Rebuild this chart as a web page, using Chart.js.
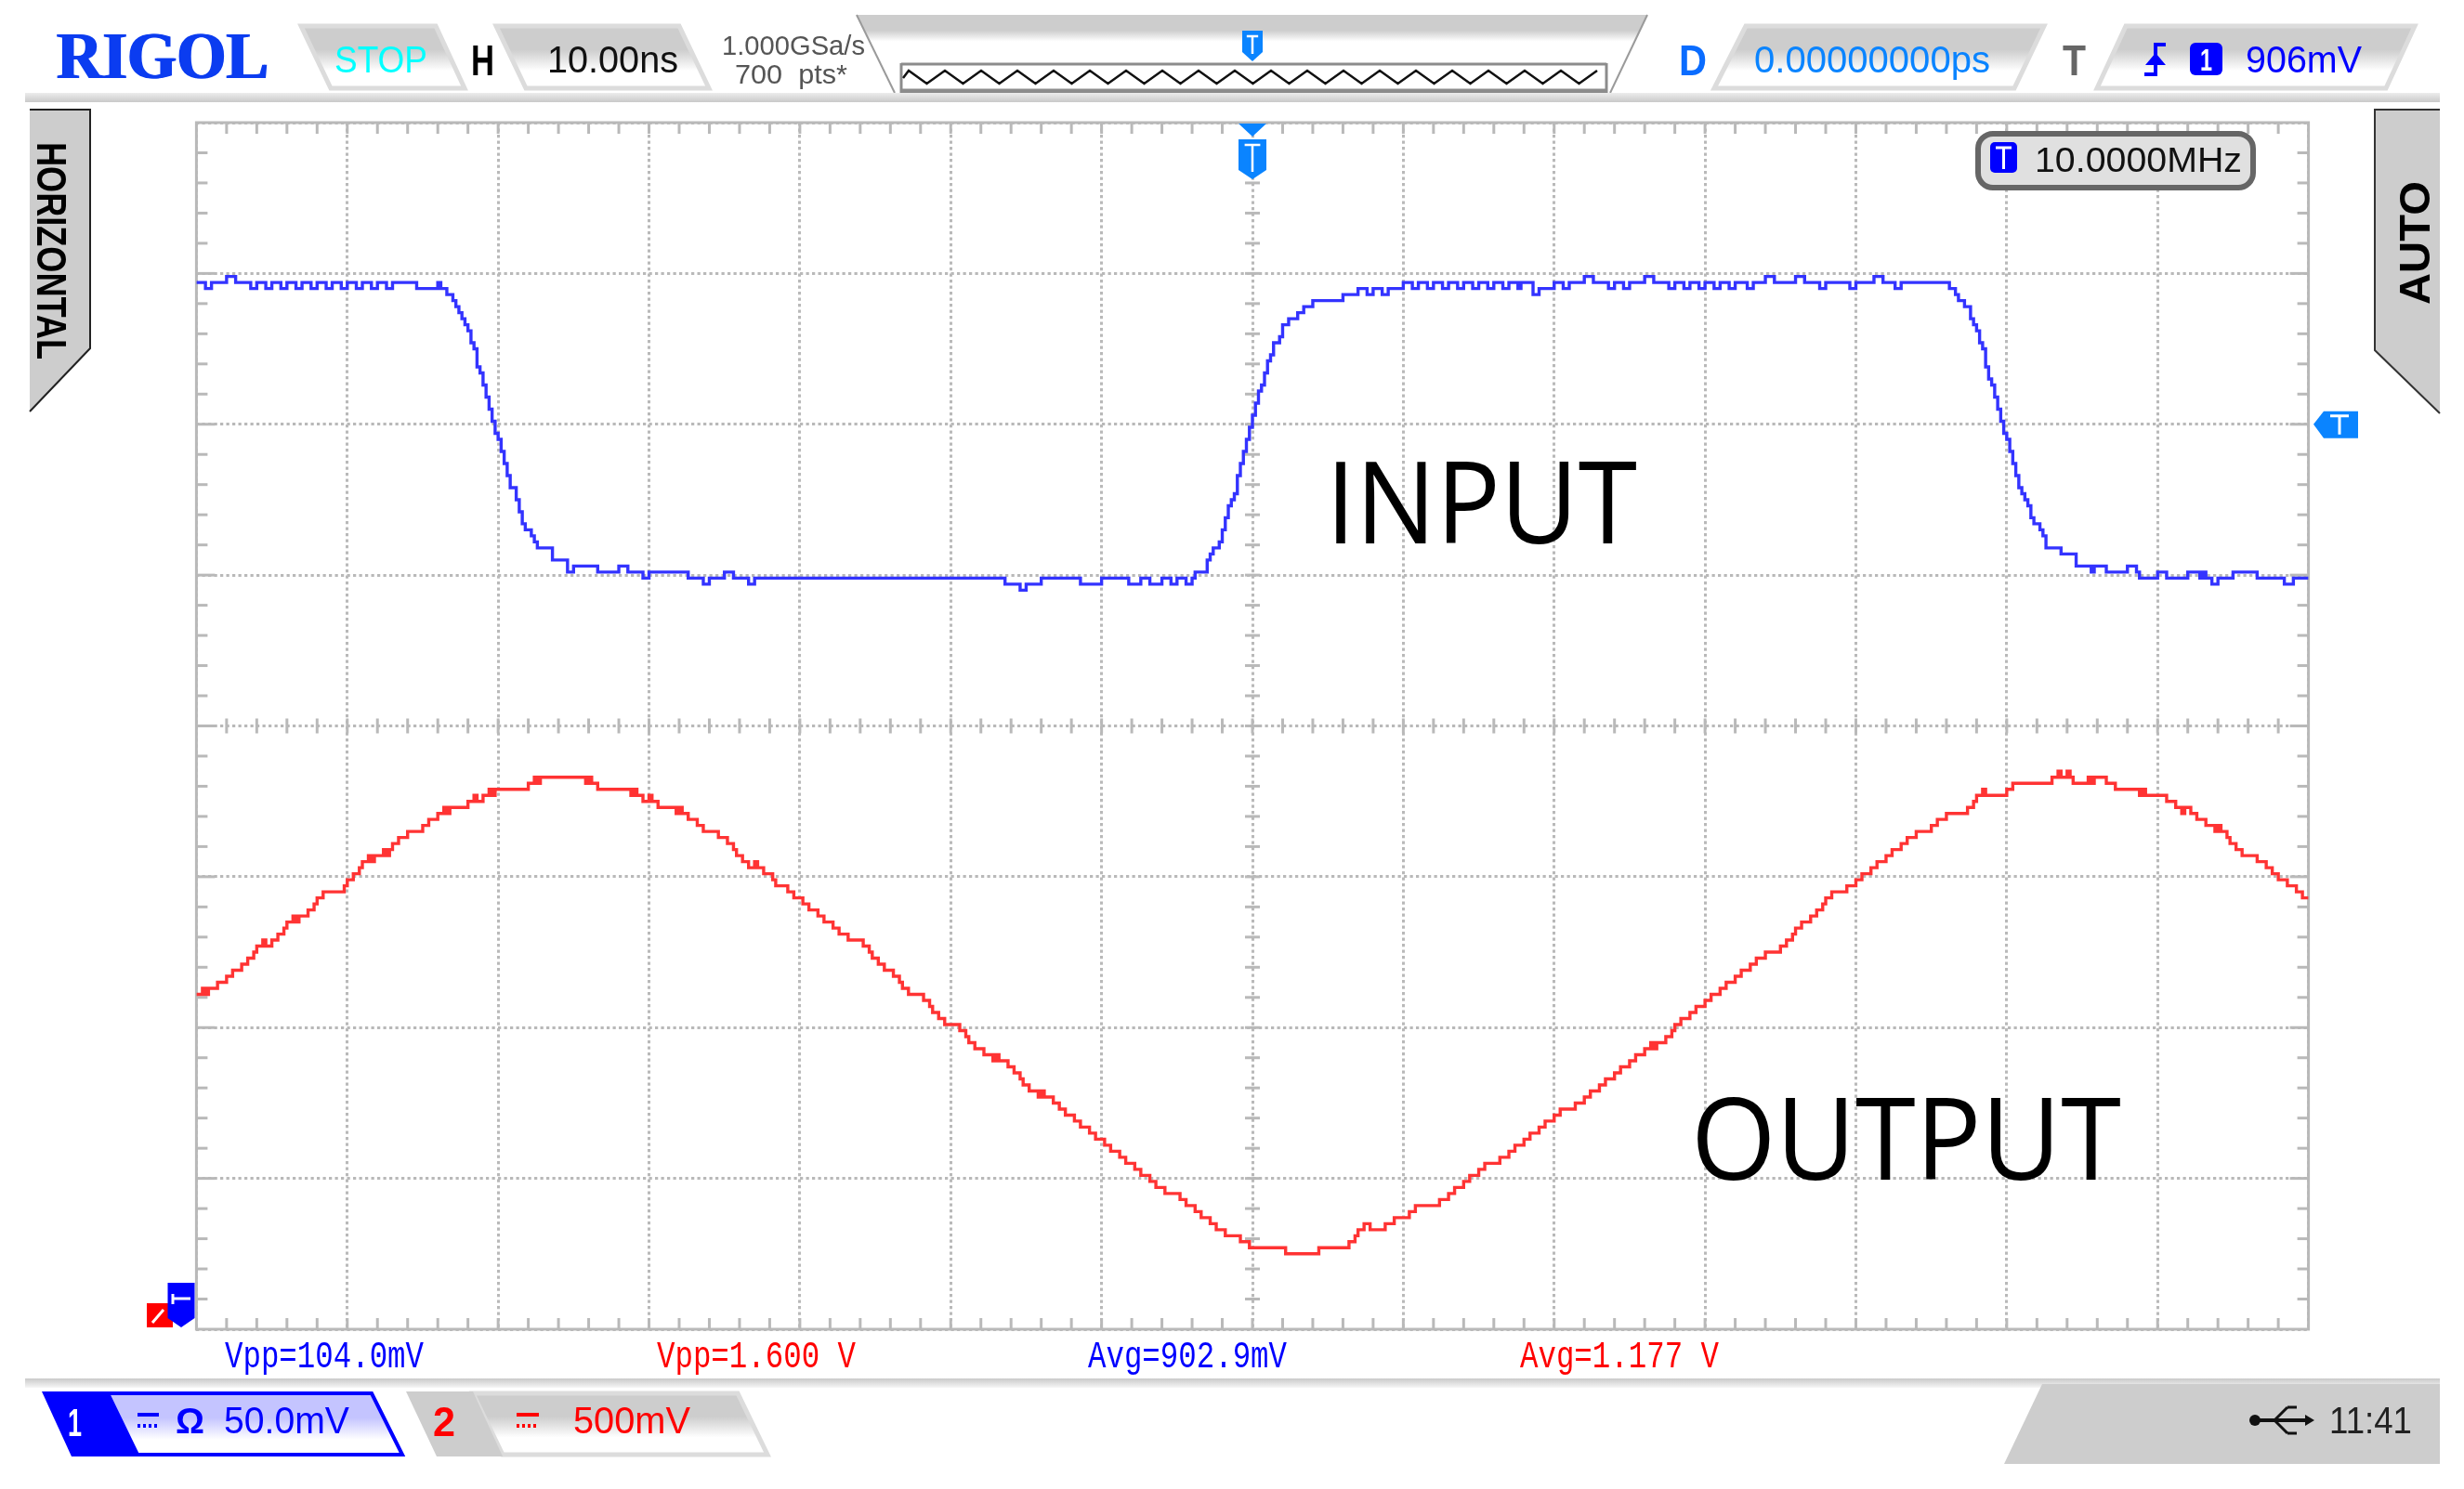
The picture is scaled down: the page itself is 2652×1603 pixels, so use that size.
<!DOCTYPE html>
<html lang="en">
<head>
    <meta charset="UTF-8">
    <title>RIGOL - input and output</title>
    <script src="https://cdn.jsdelivr.net/npm/chart.js"></script>
    <style>
        html, body { margin: 0; background: #fff; }
        canvas { display: block; }
    </style>
</head>
<body>
    <canvas id="scope" width="2652" height="1603"></canvas>

    <script>
        // samples are screen columns (700 pts), levels are screen rows (50 per division)
        const inputSamples = [
            0,3,5,10,13,18,20,23,25,28,
            30,33,35,38,40,43,45,48,50,53,
            55,58,60,63,65,73,80,81,83,85,
            86,87,88,89,90,91,92,93,94,95,
            96,97,98,99,100,101,102,103,104,106,
            107,108,109,111,112,113,118,123,125,133,
            140,143,148,150,163,168,170,175,178,183,
            185,268,273,275,280,293,300,309,313,316,
            320,323,325,328,330,331,335,336,337,339,
            340,341,342,343,344,345,346,347,348,349,
            350,351,352,353,354,355,356,357,359,360,
            362,365,367,370,380,385,388,390,393,395,
            400,403,405,408,410,413,415,418,420,423,
            425,428,430,433,435,438,439,443,445,450,
            453,455,460,463,468,470,473,475,480,483,
            488,490,493,495,498,500,503,505,508,510,
            514,516,520,523,530,533,538,540,548,550,
            556,559,563,565,581,583,584,586,588,589,
            590,591,592,593,594,595,596,597,598,599,
            600,601,602,603,604,605,606,607,608,609,
            611,612,613,618,623,628,629,633,640,643,
            644,650,653,660,664,665,666,668,670,675,
            683,692,695,700
        ];
        const inputLevels = [
            347,345,347,349,347,345,347,345,347,345,
            347,345,347,345,347,345,347,345,347,345,
            347,345,347,345,347,345,347,345,343,341,
            339,337,335,333,331,327,325,319,317,313,
            309,305,301,297,295,291,287,283,279,275,
            271,267,265,263,261,259,255,251,253,251,
            253,251,249,251,249,247,249,251,249,247,
            249,247,245,247,249,247,249,247,249,247,
            249,247,249,247,249,251,255,257,259,261,
            265,269,273,275,277,283,287,291,295,299,
            303,307,311,313,317,321,323,327,329,333,
            335,337,339,341,343,345,343,345,343,345,
            347,345,347,345,347,345,347,345,347,345,
            347,345,347,345,347,345,347,343,345,347,
            345,347,349,347,345,347,345,347,349,347,
            345,347,345,347,345,347,345,347,345,347,
            345,347,349,347,349,347,345,347,345,347,
            349,347,345,347,345,343,341,339,335,333,
            331,327,325,319,315,313,309,305,301,297,
            295,291,287,283,279,277,275,273,269,267,
            265,263,259,257,253,251,253,251,253,251,
            249,251,249,251,249,251,249,247,249,251,
            249,247,249,249
        ];

        const outputSamples = [
            0,2,3,4,7,10,12,15,17,19,
            20,22,23,25,27,29,30,32,33,34,
            37,39,40,42,49,50,52,54,55,57,
            58,59,62,63,64,65,67,70,75,77,
            80,82,83,84,90,92,93,95,97,98,
            99,110,112,113,114,129,130,131,133,144,
            145,146,148,150,151,153,159,160,161,163,
            166,168,173,176,178,179,181,183,185,186,
            188,191,192,196,198,201,203,206,208,211,
            213,216,221,223,224,226,228,231,233,234,
            236,241,243,244,246,248,253,255,256,258,
            261,264,265,266,269,271,273,274,276,279,
            280,281,284,286,288,291,293,296,298,301,
            303,306,308,311,313,316,318,321,326,328,
            331,333,336,338,341,346,349,361,372,382,
            384,385,387,389,394,397,402,404,412,415,
            417,420,422,425,427,432,435,437,440,442,
            445,447,450,452,457,460,462,465,467,470,
            472,475,477,480,482,483,484,487,489,490,
            492,495,497,500,502,505,507,510,512,515,
            517,520,525,527,529,530,532,535,537,539,
            540,542,547,550,552,555,557,560,562,565,
            567,570,575,577,580,587,589,590,592,593,
            600,602,615,617,618,620,621,622,627,628,
            629,633,636,644,645,646,653,656,658,659,
            661,663,666,669,670,671,673,674,676,678,
            683,686,688,690,693,696,698,700
        ];
        const outputLevels = [
            111,113,111,113,115,117,119,121,123,125,
            127,129,127,129,131,133,135,137,135,137,
            139,141,143,145,147,149,151,153,155,157,
            155,157,159,157,159,161,163,165,167,169,
            171,173,171,173,175,177,175,177,179,177,
            179,181,183,181,183,181,183,181,179,177,
            179,177,175,177,175,173,171,173,171,169,
            167,165,163,161,159,157,155,153,155,153,
            151,149,147,145,143,141,139,137,135,133,
            131,129,127,125,123,121,119,117,115,113,
            111,109,107,105,103,101,99,97,95,93,
            91,89,91,89,87,85,83,81,79,77,
            79,77,75,73,71,69,67,65,63,61,
            59,57,55,53,51,49,47,45,43,41,
            39,37,35,33,31,29,27,25,27,29,
            31,33,35,33,35,37,39,41,43,45,
            47,49,51,53,55,57,59,61,63,65,
            67,69,71,73,75,77,79,81,83,85,
            87,89,91,93,95,93,95,97,99,101,
            103,105,107,109,111,113,115,117,119,121,
            123,125,127,129,131,133,135,137,139,141,
            143,145,147,149,151,153,155,157,159,161,
            163,165,167,169,171,173,175,177,179,177,
            179,181,183,185,183,185,183,181,183,181,
            183,181,179,177,179,177,175,173,171,173,
            171,169,167,165,167,165,163,161,159,157,
            155,153,151,149,147,145,143,143
        ];

        const xDivision = 50, yDivision = 50, minorStep = 10;
        const SAMPLES = 700, ROWS = 400;
        const BLUE = '#0000ff', RED = '#ff0000', SKY = '#0a84ff', GRID = '#b9b9b9', PANEL = '#cdcdcd';
        const SANS = '"Liberation Sans"';
        const MONO = '"Liberation Mono"';

        function toPoints(samples, levels) {
            return samples.map((s, i) => ({ x: s, y: levels[i] }));
        }

        // text squeezed between x0 and x1, sitting on baseline
        function fitText(ctx, text, x0, x1, base, font, color) {
            ctx.save();
            ctx.font = font;
            ctx.fillStyle = color;
            ctx.textAlign = 'left';
            ctx.textBaseline = 'alphabetic';
            const w = ctx.measureText(text).width;
            ctx.translate(x0, base);
            ctx.scale((x1 - x0) / w, 1);
            ctx.fillText(text, 0, 0);
            ctx.restore();
        }

        function poly(ctx, pts) {
            ctx.beginPath();
            pts.forEach((p, i) => i ? ctx.lineTo(p[0], p[1]) : ctx.moveTo(p[0], p[1]));
            ctx.closePath();
        }

        function panel(ctx, tlx, trx, brx, blx, top, bottom, shade) {
            const pts = [[tlx, top], [trx, top], [brx, bottom], [blx, bottom]];
            const g = ctx.createLinearGradient(0, top, 0, bottom);
            g.addColorStop(0, shade);
            g.addColorStop(0.38, shade);
            g.addColorStop(0.72, '#ffffff');
            g.addColorStop(1, '#ffffff');
            poly(ctx, pts);
            ctx.fillStyle = g;
            ctx.fill();
            ctx.strokeStyle = '#dcdcdc';
            ctx.lineWidth = 5;
            ctx.stroke();
        }

        function line(ctx, x0, y0, x1, y1, color, width) {
            ctx.strokeStyle = color;
            ctx.lineWidth = width;
            ctx.beginPath();
            ctx.moveTo(x0, y0);
            ctx.lineTo(x1, y1);
            ctx.stroke();
        }

        // coupling mark: solid bar over a dotted one
        function coupling(ctx, x0, x1, color) {
            line(ctx, x0, 1523, x1, 1523, color, 4);
            ctx.setLineDash([3, 3]);
            line(ctx, x0, 1535, x1, 1535, color, 4);
            ctx.setLineDash([]);
        }

        function drawHeader(ctx) {
            fitText(ctx, 'RIGOL', 60, 288, 84, 'bold 72px "Liberation Serif"', '#0b3cf0');
            fitText(ctx, 'RIGOL', 62, 290, 84, 'bold 72px "Liberation Serif"', '#0b3cf0');

            panel(ctx, 324, 469, 500, 356, 28, 95, PANEL);
            fitText(ctx, 'STOP', 360, 460, 78, '40px ' + SANS, '#00ffff');
            fitText(ctx, 'H', 507, 532, 81, 'bold 46px ' + SANS, '#000');
            panel(ctx, 534, 731, 763, 566, 28, 95, PANEL);
            fitText(ctx, '10.00ns', 589, 730, 78, '40px ' + SANS, '#111');
            fitText(ctx, '1.000GSa/s', 777, 931, 59, '30px ' + SANS, '#555');
            fitText(ctx, '700  pts*', 791, 912, 90, '30px ' + SANS, '#555');

            // memory overview
            const g = ctx.createLinearGradient(0, 16, 0, 100);
            g.addColorStop(0, PANEL);
            g.addColorStop(0.2, PANEL);
            g.addColorStop(0.34, '#ffffff');
            g.addColorStop(1, '#ffffff');
            poly(ctx, [[922, 16], [1773, 16], [1733, 100], [963, 100]]);
            ctx.fillStyle = g;
            ctx.fill();
            line(ctx, 922, 16, 963, 100, '#9a9a9a', 2);
            line(ctx, 1773, 16, 1733, 100, '#9a9a9a', 2);
            ctx.fillStyle = '#fff';
            ctx.fillRect(970, 68, 759, 32);
            line(ctx, 970, 69, 1729, 69, '#8c8c8c', 3);
            line(ctx, 970, 98, 1729, 98, '#8c8c8c', 5);
            line(ctx, 970, 68, 970, 100, '#8c8c8c', 3);
            line(ctx, 1729, 68, 1729, 100, '#8c8c8c', 3);
            ctx.strokeStyle = '#111';
            ctx.lineWidth = 2.5;
            ctx.beginPath();
            ctx.moveTo(972, 84);
            for (let x = 978, up = true; x < 1727; x += 19.5, up = !up) ctx.lineTo(x, up ? 76 : 90);
            ctx.stroke();
            marker(ctx, 1348, 33, 66, 22, SKY);

            fitText(ctx, 'D', 1807, 1837, 81, 'bold 46px ' + SANS, '#0a6cff');
            panel(ctx, 1879, 2200, 2168, 1845, 28, 95, PANEL);
            fitText(ctx, '0.00000000ps', 1888, 2142, 78, '40px ' + SANS, SKY);
            fitText(ctx, 'T', 2220, 2245, 81, 'bold 46px ' + SANS, '#666');
            panel(ctx, 2288, 2599, 2568, 2257, 28, 95, PANEL);

            // trigger edge
            ctx.strokeStyle = BLUE;
            ctx.lineWidth = 4;
            ctx.beginPath();
            ctx.moveTo(2331, 48);
            ctx.lineTo(2320, 48);
            ctx.lineTo(2320, 80);
            ctx.lineTo(2308, 80);
            ctx.stroke();
            ctx.fillStyle = BLUE;
            poly(ctx, [[2320, 57], [2331, 70], [2309, 70]]);
            ctx.fill();
            ctx.beginPath();
            ctx.roundRect(2357, 46, 35, 35, 6);
            ctx.fill();
            fitText(ctx, '1', 2368, 2381, 76, 'bold 34px ' + SANS, '#fff');
            fitText(ctx, '906mV', 2417, 2542, 78, '40px ' + SANS, BLUE);

            const b = ctx.createLinearGradient(0, 100, 0, 110);
            b.addColorStop(0, '#ececec');
            b.addColorStop(1, '#c9c9c9');
            ctx.fillStyle = b;
            ctx.fillRect(27, 100, 2599, 10);
        }

        function drawTabs(ctx) {
            poly(ctx, [[32, 117], [97, 117], [97, 375], [32, 443]]);
            ctx.fillStyle = PANEL;
            ctx.fill();
            ctx.strokeStyle = '#222';
            ctx.lineWidth = 2;
            ctx.beginPath();
            ctx.moveTo(32, 118);
            ctx.lineTo(97, 118);
            ctx.lineTo(97, 375);
            ctx.lineTo(32, 443);
            ctx.stroke();
            ctx.save();
            ctx.translate(40, 153);
            ctx.rotate(Math.PI / 2);
            fitText(ctx, 'HORIZONTAL', 0, 234, 0, 'bold 45px ' + SANS, '#000');
            ctx.restore();

            poly(ctx, [[2626, 117], [2556, 117], [2556, 377], [2626, 445]]);
            ctx.fillStyle = PANEL;
            ctx.fill();
            ctx.strokeStyle = '#333';
            ctx.beginPath();
            ctx.moveTo(2626, 118);
            ctx.lineTo(2556, 118);
            ctx.lineTo(2556, 377);
            ctx.lineTo(2626, 445);
            ctx.stroke();
            ctx.save();
            ctx.translate(2615, 328);
            ctx.rotate(-Math.PI / 2);
            fitText(ctx, 'AUTO', 0, 133, 0, 'bold 46px ' + SANS, '#000');
            ctx.restore();
        }

        function drawFooter(ctx) {
            const g = ctx.createLinearGradient(0, 1484, 0, 1494);
            g.addColorStop(0, '#c9c9c9');
            g.addColorStop(1, '#f6f6f6');
            ctx.fillStyle = g;
            ctx.fillRect(27, 1484, 2599, 10);

            const mono = '40px ' + MONO;
            fitText(ctx, 'Vpp=104.0mV', 242, 456, 1472, mono, BLUE);
            fitText(ctx, 'Vpp=1.600 V', 707, 921, 1472, mono, RED);
            fitText(ctx, 'Avg=902.9mV', 1171, 1385, 1472, mono, BLUE);
            fitText(ctx, 'Avg=1.177 V', 1636, 1850, 1472, mono, RED);

            // channel 1
            const blueFade = ctx.createLinearGradient(0, 1499, 0, 1567);
            blueFade.addColorStop(0, '#c4c4ff');
            blueFade.addColorStop(0.4, '#c4c4ff');
            blueFade.addColorStop(0.75, '#ffffff');
            poly(ctx, [[116, 1500], [400, 1500], [433, 1566], [148, 1566]]);
            ctx.fillStyle = blueFade;
            ctx.fill();
            ctx.strokeStyle = BLUE;
            ctx.lineWidth = 4;
            ctx.stroke();
            poly(ctx, [[45, 1498], [116, 1498], [148, 1568], [77, 1568]]);
            ctx.fillStyle = BLUE;
            ctx.fill();
            fitText(ctx, '1', 73, 88, 1546, 'bold 42px ' + SANS, '#fff');
            coupling(ctx, 148, 171, BLUE);
            fitText(ctx, 'Ω', 189, 220, 1543, 'bold 38px ' + SANS, BLUE);
            fitText(ctx, '50.0mV', 241, 376, 1543, '40px ' + SANS, BLUE);

            // channel 2
            panel(ctx, 509, 794, 826, 541, 1500, 1566, PANEL);
            poly(ctx, [[437, 1498], [509, 1498], [541, 1568], [470, 1568]]);
            ctx.fillStyle = PANEL;
            ctx.fill();
            fitText(ctx, '2', 466, 490, 1546, 'bold 44px ' + SANS, RED);
            coupling(ctx, 556, 580, RED);
            fitText(ctx, '500mV', 617, 743, 1543, '40px ' + SANS, RED);

            // usb and clock corner
            poly(ctx, [[2198, 1490], [2626, 1490], [2626, 1576], [2157, 1576]]);
            ctx.fillStyle = PANEL;
            ctx.fill();
            line(ctx, 2428, 1529, 2486, 1529, '#111', 4);
            line(ctx, 2448, 1529, 2462, 1515, '#111', 3);
            line(ctx, 2462, 1515, 2472, 1515, '#111', 3);
            line(ctx, 2448, 1529, 2462, 1543, '#111', 3);
            line(ctx, 2462, 1543, 2472, 1543, '#111', 3);
            ctx.fillStyle = '#111';
            poly(ctx, [[2491, 1529], [2481, 1523], [2481, 1535]]);
            ctx.fill();
            ctx.beginPath();
            ctx.arc(2427, 1529, 6, 0, Math.PI * 2);
            ctx.fill();
            fitText(ctx, '11:41', 2507, 2596, 1543, '40px ' + SANS, '#222');
        }

        // pentagon flag pointing down with a white T
        function marker(ctx, cx, top, bottom, width, color) {
            flag(ctx, cx, top, bottom, width, color);
            line(ctx, cx - width * 0.28, top + 6, cx + width * 0.28, top + 6, '#fff', 2.5);
            line(ctx, cx, top + 6, cx, bottom - 8, '#fff', 2.5);
        }

        function flag(ctx, cx, top, bottom, width, color) {
            const half = width / 2;
            poly(ctx, [[cx - half, top], [cx + half, top], [cx + half, bottom - 10], [cx, bottom], [cx - half, bottom - 10]]);
            ctx.fillStyle = color;
            ctx.fill();
        }

        const scopeChrome = {
            id: 'scopeChrome',
            beforeDatasetsDraw(chart) {
                const { ctx, chartArea: a, scales: { x, y } } = chart;
                ctx.save();
                // small ticks along the frame and the centre cross
                for (let s = minorStep; s < SAMPLES; s += minorStep) {
                    const px = x.getPixelForValue(s);
                    line(ctx, px, a.top, px, a.top + 12, GRID, 3);
                    line(ctx, px, a.bottom, px, a.bottom - 12, GRID, 3);
                    const cy = y.getPixelForValue(ROWS / 2);
                    line(ctx, px, cy - 8, px, cy + 8, GRID, 3);
                }
                for (let v = minorStep; v < ROWS; v += minorStep) {
                    const py = y.getPixelForValue(v);
                    const len = v % yDivision === 0 ? 20 : 12;
                    line(ctx, a.left, py, a.left + len, py, GRID, 3);
                    line(ctx, a.right, py, a.right - len, py, GRID, 3);
                    const cx = x.getPixelForValue(SAMPLES / 2);
                    line(ctx, cx - 8, py, cx + 8, py, GRID, 3);
                }
                ctx.strokeStyle = GRID;
                ctx.lineWidth = 3;
                ctx.strokeRect(a.left, a.top, a.right - a.left, a.bottom - a.top);
                ctx.restore();
            },
            afterDatasetsDraw(chart) {
                const { ctx, chartArea: a, scales: { x, y } } = chart;
                ctx.save();
                drawHeader(ctx);
                drawTabs(ctx);
                drawFooter(ctx);

                // trigger position and trigger level
                const tx = x.getPixelForValue(SAMPLES / 2);
                ctx.fillStyle = SKY;
                poly(ctx, [[tx - 15, a.top + 1], [tx + 15, a.top + 1], [tx, a.top + 15]]);
                ctx.fill();
                marker(ctx, tx, a.top + 18, a.top + 61, 30, SKY);
                const ty = y.getPixelForValue(300);
                poly(ctx, [[2490, ty], [2501, ty - 14], [2538, ty - 14], [2538, ty + 15], [2501, ty + 15]]);
                ctx.fillStyle = SKY;
                ctx.fill();
                line(ctx, 2508, ty - 9, 2528, ty - 9, '#fff', 3);
                line(ctx, 2518, ty - 9, 2518, ty + 11, '#fff', 3);

                // channel ground flags
                poly(ctx, [[158, 1403], [186, 1403], [186, 1429], [158, 1429]]);
                ctx.fillStyle = RED;
                ctx.fill();
                line(ctx, 164, 1424, 176, 1410, '#fff', 3);
                flag(ctx, 195, 1381, 1429, 29, BLUE);
                line(ctx, 186, 1393, 186, 1404, '#fff', 3);
                line(ctx, 186, 1398, 205, 1398, '#fff', 3);

                // frequency counter
                ctx.beginPath();
                ctx.roundRect(2129, 144, 296, 58, 16);
                ctx.fillStyle = '#e0e0e0';
                ctx.fill();
                ctx.strokeStyle = '#666';
                ctx.lineWidth = 6;
                ctx.stroke();
                ctx.beginPath();
                ctx.roundRect(2142, 153, 29, 33, 5);
                ctx.fillStyle = BLUE;
                ctx.fill();
                line(ctx, 2148, 159, 2165, 159, '#fff', 3);
                line(ctx, 2156.5, 159, 2156.5, 182, '#fff', 3);
                fitText(ctx, '10.0000MHz', 2190, 2413, 185, '37px ' + SANS, '#111');

                fitText(ctx, 'INPUT', 1427, 1762, 585, '122px "Open Sans"', '#000');
                fitText(ctx, 'OUTPUT', 1820, 2283, 1270, '122px "Open Sans"', '#000');
                ctx.restore();
            }
        };

        const traceStyle = {
            stepped: true,
            pointRadius: 0,
            borderWidth: 3.4,
            borderJoinStyle: 'miter',
            borderCapStyle: 'butt',
            fill: false
        };

        new Chart(document.getElementById('scope').getContext('2d'), {
            type: 'line',
            data: {
                datasets: [
                    { ...traceStyle, label: 'INPUT', data: toPoints(inputSamples, inputLevels), borderColor: '#3333ff' },
                    { ...traceStyle, label: 'OUTPUT', data: toPoints(outputSamples, outputLevels), borderColor: '#ff3333' }
                ]
            },
            options: {
                responsive: false,
                animation: false,
                devicePixelRatio: 1,
                layout: { padding: { left: 211.4, right: 167.4, top: 132, bottom: 172 } },
                plugins: { legend: { display: false }, tooltip: { enabled: false } },
                scales: {
                    x: {
                        type: 'linear', min: 0, max: SAMPLES,
                        ticks: { display: false, stepSize: xDivision },
                        grid: { color: GRID, lineWidth: 3, drawTicks: false },
                        border: { display: false, dash: [3.25, 3.25] }
                    },
                    y: {
                        type: 'linear', min: 0, max: ROWS,
                        ticks: { display: false, stepSize: yDivision },
                        grid: { color: GRID, lineWidth: 3, drawTicks: false },
                        border: { display: false, dash: [3.25, 3.25] }
                    }
                }
            },
            plugins: [scopeChrome]
        });
    </script>
</body>
</html>
